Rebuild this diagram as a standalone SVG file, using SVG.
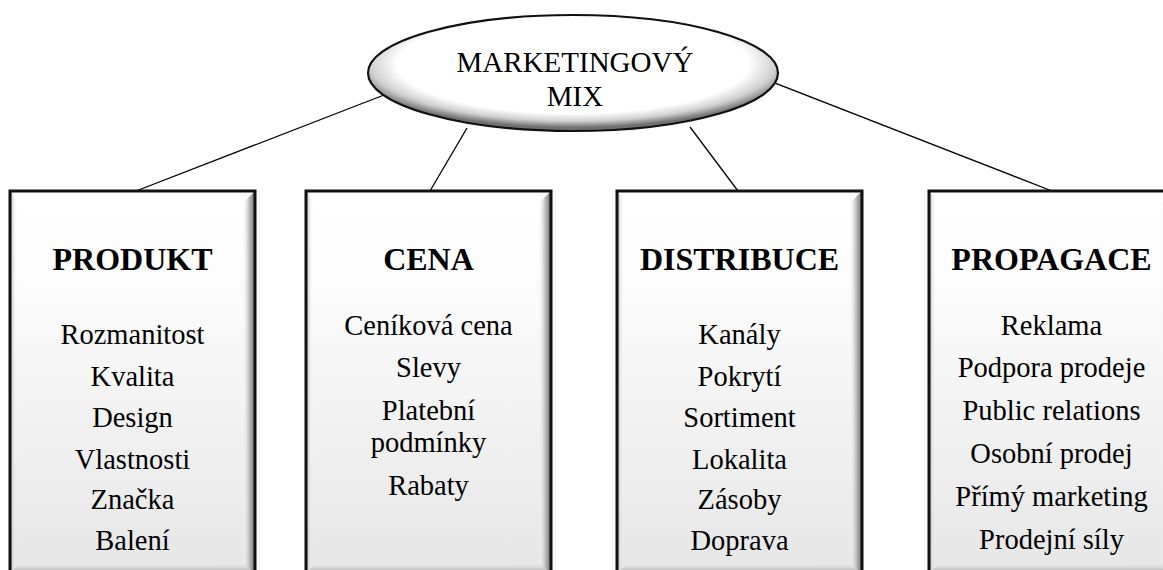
<svg xmlns="http://www.w3.org/2000/svg" xmlns:xlink="http://www.w3.org/1999/xlink" width="1163" height="570" viewBox="0 0 1163 570">
<defs>
<style>
.conn{stroke:#000;stroke-width:1.3;fill:none}
.node{font-family:"Liberation Serif","Times New Roman",serif;font-size:28.5px;text-anchor:middle;fill:#000}
.hdr{font-size:32px;font-weight:bold}
</style>
<linearGradient id="bodyGrad" x1="0" y1="0" x2="0" y2="1">
<stop offset="0" stop-color="#ffffff"/>
<stop offset="0.25" stop-color="#fcfcfc"/>
<stop offset="1" stop-color="#e6e6e6"/>
</linearGradient>
<linearGradient id="rightGrad" x1="0" y1="0" x2="1" y2="0">
<stop offset="0" stop-color="#ffffff" stop-opacity="0"/>
<stop offset="0.5" stop-color="#c8c8c8"/>
<stop offset="1" stop-color="#707070"/>
</linearGradient>
<linearGradient id="leftGrad" x1="0" y1="0" x2="1" y2="0">
<stop offset="0" stop-color="#b0b0b0"/>
<stop offset="1" stop-color="#ffffff" stop-opacity="0"/>
</linearGradient>
<linearGradient id="bottomGrad" x1="0" y1="0" x2="0" y2="1">
<stop offset="0" stop-color="#ffffff" stop-opacity="0"/>
<stop offset="1" stop-color="#808080"/>
</linearGradient>
<radialGradient id="ellGrad" cx="0.5" cy="0.42" r="0.55">
<stop offset="0" stop-color="#ffffff"/>
<stop offset="0.78" stop-color="#ffffff"/>
<stop offset="0.9" stop-color="#d0d0d0"/>
<stop offset="1" stop-color="#707070"/>
</radialGradient>
<g id="boxShape">
<rect x="0" y="0" width="245" height="383" fill="url(#bodyGrad)"/>
<polygon points="245,0 232,13 232,371 245,383" fill="url(#rightGrad)"/>
<polygon points="0,0 7,9 7,375 0,383" fill="url(#leftGrad)"/>
<polygon points="0,383 7,375 232,371 245,383" fill="url(#bottomGrad)"/>
<rect x="0" y="0" width="245" height="383" fill="none" stroke="#111" stroke-width="3"/>
</g>
</defs>
<rect width="1163" height="570" fill="#fff"/>
<g id="connectors">
<line class="conn" x1="384" y1="95" x2="136" y2="191"/>
<line class="conn" x1="467" y1="128" x2="430" y2="191"/>
<line class="conn" x1="690" y1="127" x2="738" y2="191"/>
<line class="conn" x1="757" y1="76" x2="1052" y2="191"/>
</g>
<g id="marketingovy-mix" class="node" style="font-size:29px">
<ellipse cx="573" cy="73" rx="205" ry="58" fill="url(#ellGrad)" stroke="#111" stroke-width="2.2"/>
<text x="575" y="72">MARKETINGOVÝ</text>
<text x="575" y="106">MIX</text>
</g>
<g id="produkt" class="node" transform="translate(10,191)">
<use xlink:href="#boxShape"/>
<text class="hdr" x="122.5" y="79">PRODUKT</text>
<text x="122.5" y="153">Rozmanitost</text>
<text x="122.5" y="194.5">Kvalita</text>
<text x="122.5" y="236">Design</text>
<text x="122.5" y="277.5">Vlastnosti</text>
<text x="122.5" y="318">Značka</text>
<text x="122.5" y="359">Balení</text>
</g>
<g id="cena" class="node" transform="translate(306,191)">
<use xlink:href="#boxShape"/>
<text class="hdr" x="122.5" y="79">CENA</text>
<text x="122.5" y="144">Ceníková cena</text>
<text x="122.5" y="186">Slevy</text>
<text x="122.5" y="229">Platební</text>
<text x="122.5" y="261">podmínky</text>
<text x="122.5" y="304">Rabaty</text>
</g>
<g id="distribuce" class="node" transform="translate(617,191)">
<use xlink:href="#boxShape"/>
<text class="hdr" x="122.5" y="79">DISTRIBUCE</text>
<text x="122.5" y="153">Kanály</text>
<text x="122.5" y="194.5">Pokrytí</text>
<text x="122.5" y="236">Sortiment</text>
<text x="122.5" y="277.5">Lokalita</text>
<text x="122.5" y="318">Zásoby</text>
<text x="122.5" y="359">Doprava</text>
</g>
<g id="propagace" class="node" transform="translate(929,191)">
<use xlink:href="#boxShape"/>
<text class="hdr" x="122.5" y="79">PROPAGACE</text>
<text x="122.5" y="144">Reklama</text>
<text x="122.5" y="186">Podpora prodeje</text>
<text x="122.5" y="229">Public relations</text>
<text x="122.5" y="272">Osobní prodej</text>
<text x="122.5" y="315">Přímý marketing</text>
<text x="122.5" y="358">Prodejní síly</text>
</g>
</svg>
